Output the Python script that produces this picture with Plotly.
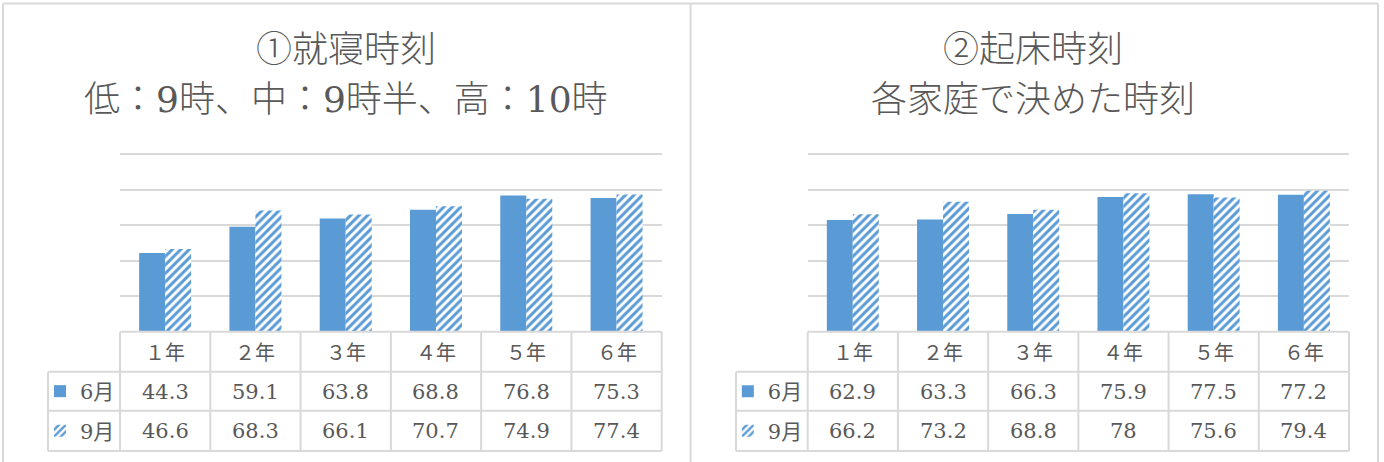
import plotly.graph_objects as go

# ---- data -------------------------------------------------------------
grades = ["１年", "２年", "３年", "４年", "５年", "６年"]
series_names = ["6月", "9月"]

bedtime_jun = [44.3, 59.1, 63.8, 68.8, 76.8, 75.3]
bedtime_sep = [46.6, 68.3, 66.1, 70.7, 74.9, 77.4]

wakeup_jun = [62.9, 63.3, 66.3, 75.9, 77.5, 77.2]
wakeup_sep = [66.2, 73.2, 68.8, 78, 75.6, 79.4]

titles_left = ["①就寝時刻", "低：9時、中：9時半、高：10時"]
titles_right = ["②起床時刻", "各家庭で決めた時刻"]

# ---- styling ----------------------------------------------------------
W, H = 1384, 462
BLUE = "#5B9BD5"
GRID = "#D9D9D9"
TEXT = "#595959"
FONT = "DejaVu Serif, Noto Sans CJK JP, sans-serif"
CJK = "Noto Sans CJK JP, sans-serif"


def px(x):
    return x / W


def py(y):
    return 1 - y / H


# pixel layout of the two panels
panels = [
    dict(xa="x", ya="y", left=120, right=661.7, legend_left=48,
         title_cx=346, titles=titles_left, jun=bedtime_jun, sep=bedtime_sep,
         legends=("legend", "legend2")),
    dict(xa="x2", ya="y2", left=807.7, right=1349, legend_left=736,
         title_cx=1033, titles=titles_right, jun=wakeup_jun, sep=wakeup_sep,
         legends=("legend3", "legend4")),
]
# y pixel of value 0 and value 100; the axis runs a little past 100 so the
# 100 gridline is not clipped at the plot edge
y0_px, y100_px = 331.7, 154.3
y_max = 103
plot_top = y0_px - (y0_px - y100_px) * y_max / 100
row_lines = [331.7, 371.7, 410.7, 451]

fig = go.Figure()
shapes = []
annotations = []
layout_extra = {}

for i, p in enumerate(panels):
    fig.add_trace(go.Bar(
        x=grades, y=p["jun"], name=series_names[0],
        xaxis=p["xa"], yaxis=p["ya"], legend=p["legends"][0],
        marker=dict(color=BLUE, line=dict(width=0)),
        hoverinfo="skip",
    ))
    fig.add_trace(go.Bar(
        x=grades, y=p["sep"], name=series_names[1],
        xaxis=p["xa"], yaxis=p["ya"], legend=p["legends"][1],
        marker=dict(color="white", line=dict(width=0),
                    pattern=dict(shape="/", fgcolor=BLUE, bgcolor="white",
                                 size=6, solidity=0.5, fillmode="replace")),
        hoverinfo="skip",
    ))

    xkey = "xaxis" if i == 0 else "xaxis2"
    ykey = "yaxis" if i == 0 else "yaxis2"
    layout_extra[xkey] = dict(
        domain=[px(p["left"]), px(p["right"])], range=[-0.5, 5.5],
        showticklabels=False, showgrid=False, zeroline=False, showline=False,
        anchor=p["ya"], fixedrange=True,
    )
    layout_extra[ykey] = dict(
        domain=[py(y0_px), py(plot_top)], range=[0, y_max],
        tickmode="linear", tick0=0, dtick=20,
        showticklabels=False, showgrid=True, gridcolor=GRID, gridwidth=1.5,
        zeroline=False, showline=False, anchor=p["xa"], fixedrange=True,
    )

    # titles
    for txt, yc in zip(p["titles"], [49, 99]):
        annotations.append(dict(
            text=txt, xref="paper", yref="paper", x=px(p["title_cx"]), y=py(yc),
            xanchor="center", yanchor="middle", showarrow=False,
            font=dict(family=FONT, size=36, color=TEXT, weight=300),
        ))

    # data table grid
    col_w = (p["right"] - p["left"]) / 6
    line = dict(color=GRID, width=2)
    shapes.append(dict(type="line", xref="paper", yref="paper",
                       x0=px(p["left"]), x1=px(p["right"]),
                       y0=py(row_lines[0]), y1=py(row_lines[0]), line=line))
    for yl in row_lines[1:]:
        shapes.append(dict(type="line", xref="paper", yref="paper",
                           x0=px(p["legend_left"]), x1=px(p["right"]),
                           y0=py(yl), y1=py(yl), line=line))
    for c in range(7):
        xl = p["left"] + c * col_w
        shapes.append(dict(type="line", xref="paper", yref="paper",
                           x0=px(xl), x1=px(xl),
                           y0=py(row_lines[0]), y1=py(row_lines[-1]), line=line))
    shapes.append(dict(type="line", xref="paper", yref="paper",
                       x0=px(p["legend_left"]), x1=px(p["legend_left"]),
                       y0=py(row_lines[1]), y1=py(row_lines[-1]), line=line))

    # header and value cells
    for g, vj, vs in zip(grades, p["jun"], p["sep"]):
        annotations.append(dict(
            text=g, xref=p["xa"], yref="paper", x=g, y=py(351.5),
            xanchor="center", yanchor="middle", showarrow=False,
            font=dict(family=CJK, size=20, color=TEXT),
        ))
        for v, yc in ((vj, 391.5), (vs, 431)):
            annotations.append(dict(
                text=f"{v:g}", xref=p["xa"], yref="paper", x=g, y=py(yc),
                xanchor="center", yanchor="middle", showarrow=False,
                font=dict(family=FONT, size=21, color=TEXT),
            ))

    # legend keys inside the table's first column
    key_cx = (p["legend_left"] + p["left"]) / 2 - 4
    for lg, yc in zip(p["legends"], (391.5, 431)):
        layout_extra[lg] = dict(
            x=px(key_cx), y=py(yc), xanchor="center", yanchor="middle",
            xref="paper", yref="paper", bgcolor="rgba(0,0,0,0)",
            font=dict(family=FONT, size=21, color=TEXT),
            itemwidth=30, borderwidth=0, itemclick=False, itemdoubleclick=False,
        )

# panel frames
frame = dict(color=GRID, width=2)
shapes.append(dict(type="line", xref="paper", yref="paper",
                   x0=px(3), x1=px(1378), y0=py(3.5), y1=py(3.5), line=frame))
for xl in (3, 690.5, 1378):
    shapes.append(dict(type="line", xref="paper", yref="paper",
                       x0=px(xl), x1=px(xl), y0=py(3.5), y1=py(H + 5), line=frame))

fig.update_layout(
    width=W, height=H,
    margin=dict(l=0, r=0, t=0, b=0),
    paper_bgcolor="white", plot_bgcolor="white",
    barmode="group", bargap=0.424, bargroupgap=0,
    showlegend=True,
    shapes=shapes, annotations=annotations,
    **layout_extra,
)

fig.write_html("out.html", config={"displayModeBar": False})
